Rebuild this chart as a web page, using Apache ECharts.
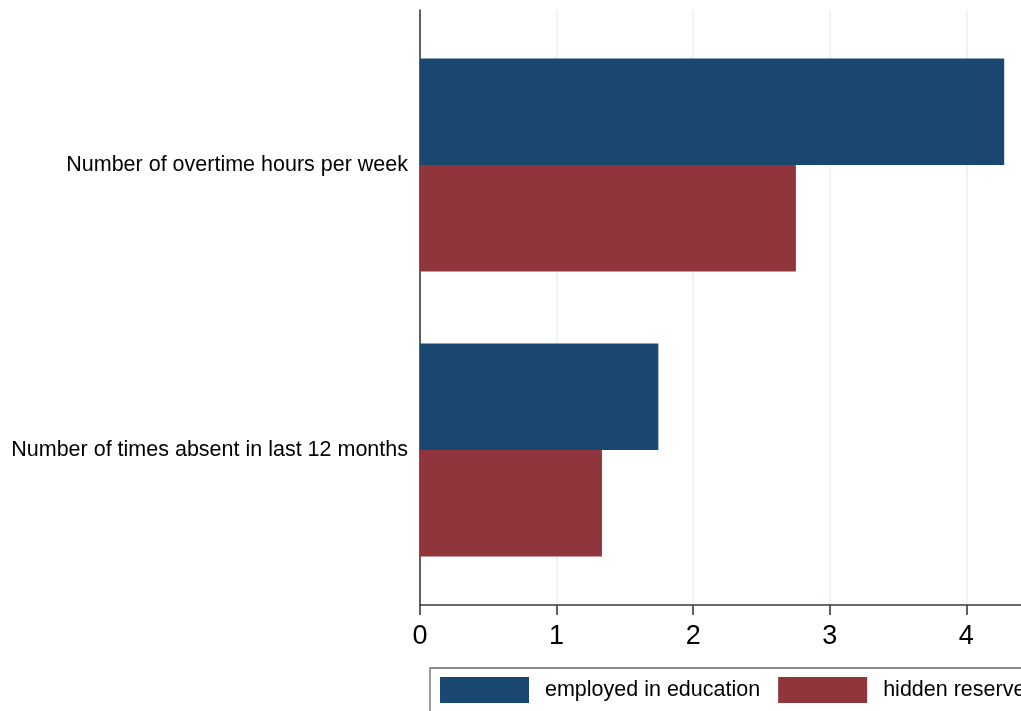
<!DOCTYPE html>
<html>
<head>
<meta charset="utf-8">
<script src="https://cdn.jsdelivr.net/npm/echarts@6/dist/echarts.min.js"></script>
<style>
  html, body { margin: 0; padding: 0; background: #fff; }
  #chart { width: 1021px; height: 711px; }
</style>
</head>
<body>
<div id="chart"></div>
<script>
// Measures compared between the two groups
const categories = [
  'Number of times absent in last 12 months',
  'Number of overtime hours per week'
];
const seriesNames = ['employed in education', 'hidden reserve'];
const employedValues = [1.745, 4.277];
const hiddenValues = [1.332, 2.752];
const xTicks = [0, 1, 2, 3, 4];

const FONT = 'Liberation Sans, Arial, sans-serif';
const BLUE = '#1a476f';
const RED = '#90353b';
const AXIS = '#3a3a3a';

const chart = echarts.init(document.getElementById('chart'), null, { renderer: 'canvas' });

chart.setOption({
  animation: false,
  backgroundColor: '#ffffff',
  // grid 0 carries the frame (axes, ticks, gridlines); grid 1 carries the bars
  grid: [
    { left: 420, right: 0, top: 10, height: 595, containLabel: false },
    { left: 420, right: 0, top: 22.5, height: 570, containLabel: false }
  ],
  xAxis: [
    {
      gridIndex: 0, type: 'value', min: 0, max: 4.4, interval: 1,
      axisLine: { show: true, lineStyle: { color: AXIS, width: 1.6 } },
      axisTick: { show: true, length: 10, customValues: xTicks, lineStyle: { color: AXIS, width: 1.6 } },
      axisLabel: {
        color: '#000', fontFamily: FONT, fontSize: 27, margin: 18,
        customValues: xTicks
      },
      splitLine: { show: true, lineStyle: { color: '#eaf2f3', width: 1.5 } }
    },
    {
      gridIndex: 1, type: 'value', min: 0, max: 4.4, interval: 1,
      axisLine: { show: false }, axisTick: { show: false },
      axisLabel: { show: false }, splitLine: { show: false }
    }
  ],
  yAxis: [
    {
      gridIndex: 0, type: 'value', min: 0, max: 1,
      axisLine: { show: true, lineStyle: { color: AXIS, width: 1.6 } },
      axisTick: { show: false }, axisLabel: { show: false }, splitLine: { show: false }
    },
    {
      gridIndex: 1, type: 'category', data: categories,
      axisLine: { show: false }, axisTick: { show: false },
      axisLabel: { color: '#000', fontFamily: FONT, fontSize: 21.5, margin: 12 },
      splitLine: { show: false }
    }
  ],
  legend: {
    left: 430, top: 668, width: 700,
    orient: 'horizontal',
    padding: [9, 60, 20, 10],
    itemWidth: 89, itemHeight: 26, itemGap: 18,
    borderColor: '#666', borderWidth: 1.3, borderRadius: 0,
    backgroundColor: '#fff',
    icon: 'rect',
    textStyle: { color: '#000', fontFamily: FONT, fontSize: 21.5, padding: [0, 0, 0, 11] },
    data: seriesNames
  },
  series: [
    {
      name: seriesNames[0], type: 'bar', xAxisIndex: 1, yAxisIndex: 1,
      data: employedValues, barWidth: 106.5, barGap: '0%',
      itemStyle: { color: BLUE }
    },
    {
      name: seriesNames[1], type: 'bar', xAxisIndex: 1, yAxisIndex: 1,
      data: hiddenValues, barWidth: 106.5, barGap: '0%',
      itemStyle: { color: RED }
    }
  ]
});
</script>
</body>
</html>
